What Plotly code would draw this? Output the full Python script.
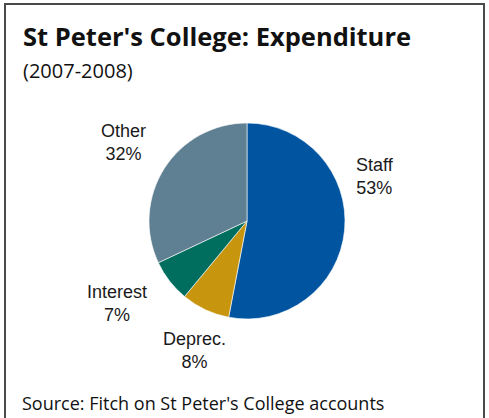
import plotly.graph_objects as go

W, H = 489, 418

categories = ["Staff", "Deprec.", "Interest", "Other"]
values = [53, 8, 7, 32]
colors = ["#0054A0", "#C8950F", "#006E5E", "#5F8092"]

title = "St Peter's College: Expenditure"
subtitle = "(2007-2008)"
source = "Source: Fitch on St Peter's College accounts"

def px(x):
    return x / W

def py(y):
    return 1 - y / H

# pie centre and radius in pixels
cx, cy, r = 247, 221, 98

fig = go.Figure(go.Pie(
    labels=categories,
    values=values,
    sort=False,
    direction="clockwise",
    rotation=0,
    marker=dict(colors=colors, line=dict(color="white", width=0.6)),
    textinfo="none",
    hoverinfo="label+percent",
    domain=dict(x=[px(cx - r), px(cx + r)], y=[py(cy + r), py(cy - r)]),
))

label_pos = {
    "Staff": (375, 176),
    "Deprec.": (194, 350),
    "Interest": (117, 303),
    "Other": (123, 143),
}

annotations = []
for cat, val in zip(categories, values):
    x, y = label_pos[cat]
    annotations.append(dict(
        text=f"{cat}<br>{val}%", x=px(x), y=py(y), xref="paper", yref="paper",
        xanchor="center", yanchor="middle", showarrow=False, align="center",
        font=dict(family="Liberation Sans, Arial", size=18, color="#1a1a1a"),
    ))

annotations += [
    dict(text=f"<b>{title}</b>", x=px(21), y=py(36), xref="paper", yref="paper",
         xanchor="left", yanchor="middle", showarrow=False,
         font=dict(family="Open Sans", size=25.5, color="#111111")),
    dict(text=subtitle, x=px(21), y=py(70), xref="paper", yref="paper",
         xanchor="left", yanchor="middle", showarrow=False,
         font=dict(family="Open Sans", size=20, color="#111111")),
    dict(text=source, x=px(20), y=py(403), xref="paper", yref="paper",
         xanchor="left", yanchor="middle", showarrow=False,
         font=dict(family="Open Sans", size=18, color="#111111")),
]

fig.update_layout(
    width=W, height=H,
    margin=dict(l=0, r=0, t=0, b=0),
    paper_bgcolor="white", plot_bgcolor="white",
    showlegend=False,
    annotations=annotations,
    shapes=[dict(type="rect", xref="paper", yref="paper",
                 x0=px(5), x1=px(484), y0=py(440), y1=py(4),
                 line=dict(color="#4a4a4a", width=2), fillcolor="rgba(0,0,0,0)")],
)

fig.write_html("out.html")
